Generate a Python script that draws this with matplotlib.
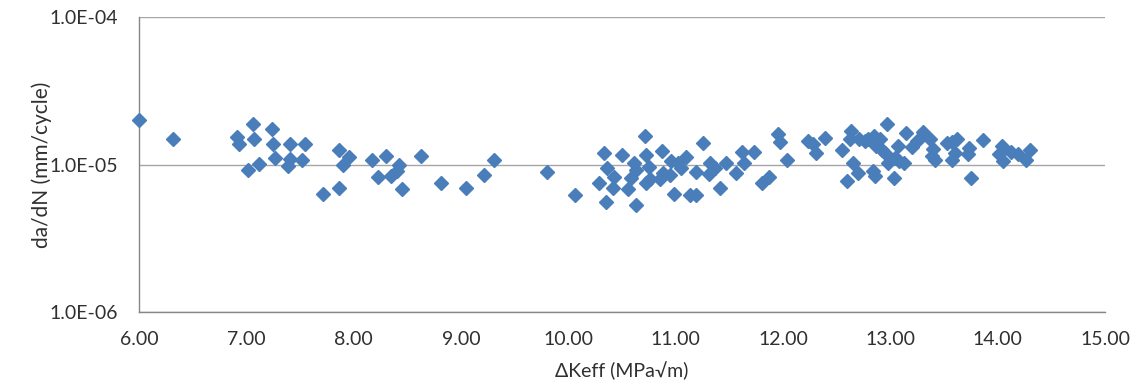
import matplotlib
matplotlib.use("Agg")
import matplotlib.pyplot as plt
from matplotlib.ticker import FuncFormatter, FixedLocator, NullLocator

# data: delta K eff (MPa sqrt m) and da/dN (mm/cycle)
dk = [6.00, 6.32, 6.91, 6.93, 7.06, 7.07, 7.02, 7.12, 7.24, 7.25, 7.27,
      7.41, 7.41, 7.39, 7.55, 7.52, 7.71, 7.86, 7.96, 7.90, 7.86, 8.17,
      8.30, 8.23, 8.35, 8.40, 8.42, 8.45, 8.63, 8.81, 9.05, 9.21, 9.31,
      9.80, 10.06, 10.33, 10.36, 10.29, 10.35, 10.43, 10.42, 10.50, 10.56,
      10.58, 10.61, 10.63, 10.63, 10.71, 10.72, 10.75, 10.76, 10.72, 10.87,
      10.88, 10.85, 10.96, 10.95, 10.98, 11.02, 11.05, 11.10, 11.13, 11.19,
      11.19, 11.25, 11.32, 11.31, 11.37, 11.41, 11.47, 11.56, 11.62, 11.64,
      11.73, 11.80, 11.87, 11.95, 11.97, 12.04, 12.23, 12.28, 12.31, 12.39,
      12.55, 12.60, 12.63, 12.62, 12.65, 12.70, 12.71, 12.76, 12.79, 12.84,
      12.86, 12.85, 12.87, 12.90, 12.92, 12.95, 12.97, 12.98, 13.03, 13.04,
      13.07, 13.08, 13.13, 13.15, 13.20, 13.25, 13.30, 13.37, 13.40, 13.39,
      13.42, 13.53, 13.57, 13.62, 13.60, 13.57, 13.73, 13.72, 13.75, 13.86,
      14.04, 14.01, 14.05, 14.12, 14.19, 14.26, 14.30]
dadn = [2.0e-5, 1.49e-5, 1.54e-5, 1.38e-5, 1.87e-5, 1.48e-5, 9.15e-6, 1.01e-5,
        1.75e-5, 1.37e-5, 1.11e-5, 1.38e-5, 1.09e-5, 9.8e-6, 1.37e-5, 1.07e-5,
        6.29e-6, 1.25e-5, 1.13e-5, 1.0e-5, 6.98e-6, 1.07e-5, 1.14e-5, 8.2e-6,
        8.4e-6, 9.0e-6, 1.0e-5, 6.77e-6, 1.14e-5, 7.5e-6, 6.95e-6, 8.55e-6,
        1.07e-5, 8.87e-6, 6.26e-6, 1.19e-5, 9.5e-6, 7.5e-6, 5.58e-6, 8.2e-6,
        6.88e-6, 1.16e-5, 6.77e-6, 8.1e-6, 1.02e-5, 9.15e-6, 5.33e-6, 1.57e-5,
        1.16e-5, 9.65e-6, 8.03e-6, 7.5e-6, 1.23e-5, 8.78e-6, 8.03e-6, 1.06e-5,
        8.47e-6, 6.29e-6, 1.02e-5, 9.4e-6, 1.13e-5, 6.19e-6, 6.19e-6, 8.92e-6,
        1.39e-5, 1.02e-5, 8.69e-6, 9.4e-6, 6.88e-6, 1.02e-5, 8.78e-6, 1.22e-5,
        1.02e-5, 1.22e-5, 7.5e-6, 8.2e-6, 1.60e-5, 1.43e-5, 1.07e-5, 1.44e-5,
        1.37e-5, 1.19e-5, 1.52e-5, 1.25e-5, 7.7e-6, 1.68e-5, 1.49e-5, 1.02e-5,
        8.78e-6, 1.49e-5, 1.44e-5, 1.49e-5, 9.0e-6, 8.4e-6, 1.57e-5, 1.33e-5,
        1.49e-5, 1.26e-5, 1.19e-5, 1.87e-5, 1.02e-5, 8.1e-6, 1.11e-5, 1.33e-5,
        1.05e-5, 1.02e-5, 1.64e-5, 1.32e-5, 1.44e-5, 1.67e-5, 1.48e-5, 1.28e-5,
        1.14e-5, 1.07e-5, 1.40e-5, 1.42e-5, 1.48e-5, 1.20e-5, 1.08e-5, 1.30e-5,
        1.17e-5, 8.1e-6, 1.46e-5, 1.33e-5, 1.17e-5, 1.05e-5, 1.21e-5, 1.17e-5,
        1.08e-5, 1.25e-5]

x_ticks = [6, 7, 8, 9, 10, 11, 12, 13, 14, 15]
y_ticks = [1e-6, 1e-5, 1e-4]

plt.rcParams['font.family'] = ['Lato', 'DejaVu Sans']
txt = '#303030'

fig = plt.figure(figsize=(11.37, 3.87), dpi=100)
ax = fig.add_axes([0.1222, 0.1938, 0.8497, 0.7622])

ax.plot(dk, dadn, linestyle='none', marker='D', markersize=7,
        color='#4a7ebb', markeredgecolor='#4a7ebb', zorder=3, clip_on=False)

ax.set_yscale('log')
ax.set_xlim(6, 15)
ax.set_ylim(1e-6, 1e-4)
ax.xaxis.set_major_locator(FixedLocator(x_ticks))
ax.yaxis.set_major_locator(FixedLocator(y_ticks))
ax.yaxis.set_minor_locator(NullLocator())
ax.xaxis.set_major_formatter(FuncFormatter(lambda v, p: f"{v:.2f}"))
ax.yaxis.set_major_formatter(FuncFormatter(lambda v, p: f"{v:.1E}"))

ax.grid(axis='y', color='#a6a6a6', linewidth=1.0)
ax.set_axisbelow(True)
for s in ['top', 'right']:
    ax.spines[s].set_visible(False)
for s in ['left', 'bottom']:
    ax.spines[s].set_color('#868686')
    ax.spines[s].set_linewidth(1.0)

ax.tick_params(axis='both', length=0, labelsize=14, colors=txt)
ax.tick_params(axis='x', pad=14)
ax.tick_params(axis='y', pad=15)

ax.set_xlabel('ΔKeff (MPa√m)', fontsize=14, color=txt, labelpad=9)
ax.set_ylabel('da/dN (mm/cycle)', fontsize=15, color=txt, labelpad=-2)

fig.savefig('out.png', dpi=100)
